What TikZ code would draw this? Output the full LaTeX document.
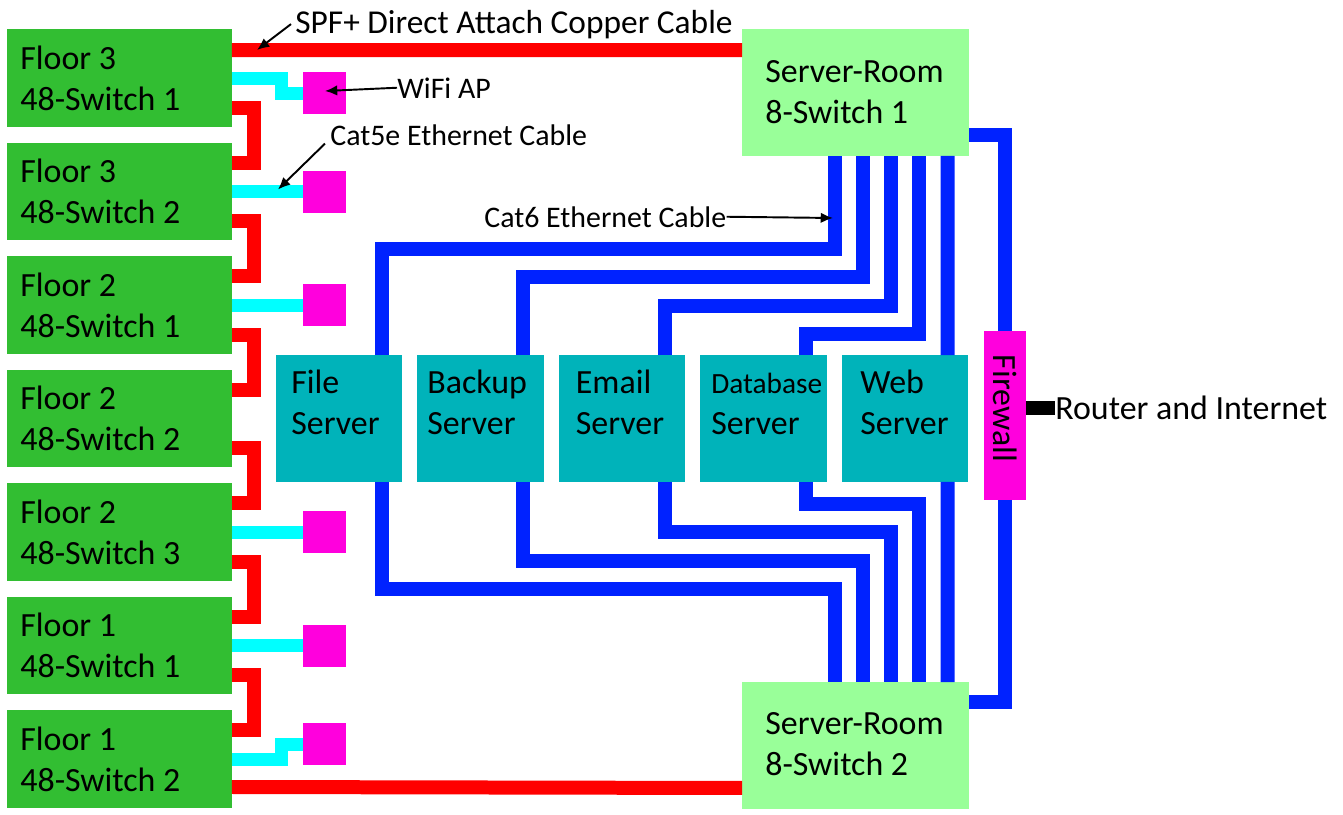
\documentclass[tikz,border=0pt]{standalone}
\usepackage{fontspec}
\setmainfont{Carlito}
\usetikzlibrary{calc,arrows.meta}
\definecolor{floorgreen}{RGB}{50,190,50}
\definecolor{roomgreen}{RGB}{153,255,153}
\definecolor{srvteal}{RGB}{0,179,186}
\definecolor{apmagenta}{RGB}{255,0,221}
\definecolor{wificyan}{RGB}{0,255,255}
\definecolor{catblue}{RGB}{0,34,255}
\newcommand\dbfont{\fontsize{16.7}{23}\selectfont}
\begin{document}
\begin{tikzpicture}[x=0.02cm,y=-0.02cm,>={Latex[length=7pt,width=6pt]},
    floorbox/.style={fill=floorgreen,minimum width=4.5cm,minimum height=1.96cm,inner sep=0,outer sep=0},
    roombox/.style={fill=roomgreen,minimum width=4.54cm,minimum height=2.54cm,inner sep=0,outer sep=0},
    srvbox/.style={fill=srvteal,minimum width=2.54cm,minimum height=2.54cm,inner sep=0,outer sep=0},
    apbox/.style={fill=apmagenta,minimum width=0.86cm,minimum height=0.84cm,inner sep=0,outer sep=0},
    fwbox/.style={fill=apmagenta,minimum width=0.84cm,minimum height=3.38cm,inner sep=0,outer sep=0,font=\fontsize{19.3}{23}\selectfont},
    boxtext/.style={anchor=base west,align=left,inner sep=0,font=\fontsize{19.3}{23.2}\selectfont},
    notetext/.style={anchor=base west,inner sep=0,font=\fontsize{17}{20}\selectfont},
    sfpcable/.style={draw=red,line width=0.28cm},
    wificable/.style={draw=wificyan,line width=0.26cm},
    catcable/.style={draw=catblue,line width=0.28cm},
    callout/.style={->,line width=1.1pt}]
    \useasboundingbox (0,0) rectangle (1343,815);
    % floor switches
    \foreach \fl/\sw [count=\n] in {3/1,3/2,2/1,2/2,2/3,1/1,1/2} {
        \node[floorbox] (f\n) at (119.5,{78+113.5*(\n-1)}) {};
        \node[boxtext] (f\n-t) at ($(f\n.north west)+(13,81)$) {Floor \fl\\48-Switch \sw};
    }
    \foreach \n/\dy in {1/64,2/49,3/49,5/49,6/49,7/34}
        \node[apbox] (ap\n) at ($(f\n.north east)+(92.5,\dy)$) {};
    % server room
    \node[roombox] (sr1) at (855.5,92.5) {};
    \node[boxtext] (sr1-t) at ($(sr1.north west)+(23,94)$) {Server-Room\\8-Switch 1};
    \node[roombox] (sr2) at (855.5,745.5) {};
    \node[boxtext] (sr2-t) at ($(sr2.north west)+(23,93)$) {Server-Room\\8-Switch 2};
    \foreach \srv/\dx [count=\k from 0] in {File/15.5,Backup/10,Email/17,{\dbfont Database}/11,Web/18.5} {
        \node[srvbox] (s\k) at ({339+141.5*\k},418.5) {};
        \node[boxtext] (s\k-t) at ($(s\k.north west)+(\dx,79)$) {\srv\\Server};
    }
    \node[fwbox] (fw) at (1005,415.5) {\rotatebox{-90}{Firewall\hspace*{8pt}}};
    \node[boxtext,anchor=west] (rt) at (1055,408) {Router and Internet};
    % cables
    \draw[sfpcable] ($(f1.north east)+(0,21)$) -- ($(sr1.north west)+(0,21)$);
    \draw[sfpcable] ($(f7.south east)+(0,-21)$) -- ($(sr2.south west)+(0,-21)$);
    \foreach \a [count=\b from 2] in {1,...,6}
        \draw[sfpcable] ($(f\a.north east)+(0,78.5)$) -| ($(f\b.north east)+(22,20)$) -- ($(f\b.north east)+(0,20)$);
    \draw[wificable] ($(f1.north east)+(0,49.5)$) -| ($(ap1.west)+(-21,0)$) -- (ap1.west);
    \draw[wificable] ($(f7.north east)+(0,49)$) -| ($(ap7.west)+(-21,0)$) -- (ap7.west);
    \foreach \n in {2,3,5,6}
        \draw[wificable] (f\n.east |- ap\n.west) -- (ap\n.west);
    \foreach \k in {0,...,3} {
        \draw[catcable] ($(s\k.north)+(42.5,0)$) |- ($(sr1.south west)+(93+28.125*\k,93+28.5*\k)$) -- ($(sr1.south west)+(93+28.125*\k,0)$);
        \draw[catcable] ($(s\k.south)+(42.5,0)$) |- ($(sr2.north west)+(93+28.125*\k,-93-28.5*\k)$) -- ($(sr2.north west)+(93+28.125*\k,0)$);
    }
    \draw[catcable] ($(s4.north)+(42.5,0)$) -- ($(sr1.south west)+(205.5,0)$);
    \draw[catcable] ($(s4.south)+(42.5,0)$) -- ($(sr2.north west)+(205.5,0)$);
    \draw[catcable] ($(sr1.north east)+(0,106)$) -| (fw.north);
    \draw[catcable] (fw.south) |- ($(sr2.north east)+(0,20)$);
    \draw[line width=0.28cm] (fw.east |- rt.west) -- (rt.west);
    % labels
    \node[notetext,font=\fontsize{19}{23}\selectfont] (spf) at (295,33) {SPF+ Direct Attach Copper Cable};
    \coordinate (spf-tip) at ($(f1.north east)+(25,21)$);
    \draw[callout] ($(spf.west)+(-4,0)$) -- (spf-tip);
    \node[notetext] (wifi) at (397,98) {WiFi AP};
    \draw[callout] (wifi.west) -- ($(ap1.west)+(22,-2)$);
    \node[notetext] (cat5) at (330,145) {Cat5e Ethernet Cable};
    \draw[callout] ($(cat5.south west)+(-5,-2)$) -- ($(f2.north east)+(46,47)$);
    \node[notetext] (cat6) at (484,227) {Cat6 Ethernet Cable};
    \draw[callout] (cat6.east) -- ($(sr1.south west)+(91,62)$);
\end{tikzpicture}
\end{document}
